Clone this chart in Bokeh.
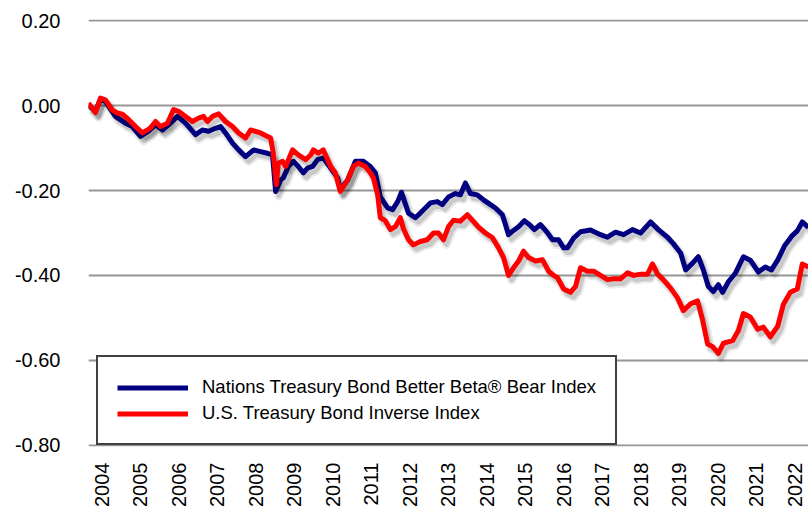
import math
from bokeh.plotting import figure
from bokeh.models import (ColumnDataSource, Range1d, FixedTicker, PrintfTickFormatter,
                          Legend, LegendItem)
from bokeh.transform import dodge
from bokeh.embed import file_html
from bokeh.resources import INLINE

# ---- data ----
year_ticks = list(range(2004, 2023))
value_ticks = [-0.8, -0.6, -0.4, -0.2, 0.0, 0.2]

bear_dates = [
    2003.65, 2003.83, 2003.96, 2004.09, 2004.35, 2004.61, 2004.79, 2005.00, 2005.21, 2005.39,
    2005.57, 2005.73, 2005.96, 2006.17, 2006.43, 2006.61, 2006.77, 2006.95, 2007.08, 2007.21,
    2007.39, 2007.55, 2007.73, 2007.94, 2008.12, 2008.30, 2008.43, 2008.51, 2008.64, 2008.71,
    2008.84, 2008.97, 2009.10, 2009.23, 2009.34, 2009.47, 2009.60, 2009.75, 2009.94, 2010.12,
    2010.19, 2010.38, 2010.58, 2010.79, 2010.97, 2011.10, 2011.23, 2011.42, 2011.55, 2011.68,
    2011.78, 2011.86, 2011.96, 2012.14, 2012.27, 2012.40, 2012.53, 2012.71, 2012.84, 2013.00,
    2013.18, 2013.31, 2013.44, 2013.57, 2013.75, 2013.91, 2014.09, 2014.22, 2014.40, 2014.48,
    2014.56, 2014.69, 2014.82, 2014.97, 2015.10, 2015.23, 2015.39, 2015.57, 2015.70, 2015.86,
    2015.99, 2016.09, 2016.25, 2016.43, 2016.69, 2016.95, 2017.13, 2017.34, 2017.55, 2017.78,
    2017.99, 2018.25, 2018.45, 2018.69, 2018.84, 2019.03, 2019.16, 2019.34, 2019.49, 2019.62,
    2019.75, 2019.88, 2020.01, 2020.12, 2020.27, 2020.45, 2020.66, 2020.84, 2021.05, 2021.23,
    2021.39, 2021.55, 2021.73, 2021.91, 2022.06, 2022.19, 2022.35,
]
bear_values = [
    0.000, -0.012, 0.015, 0.010, -0.025, -0.041, -0.049, -0.072, -0.060, -0.045,
    -0.057, -0.045, -0.025, -0.041, -0.068, -0.057, -0.060, -0.053, -0.049, -0.064,
    -0.088, -0.104, -0.120, -0.104, -0.108, -0.112, -0.116, -0.202, -0.175, -0.170,
    -0.143, -0.131, -0.143, -0.158, -0.147, -0.143, -0.127, -0.123, -0.147, -0.170,
    -0.198, -0.175, -0.131, -0.131, -0.143, -0.158, -0.215, -0.241, -0.245, -0.226,
    -0.204, -0.226, -0.253, -0.264, -0.253, -0.241, -0.229, -0.226, -0.233, -0.215,
    -0.207, -0.210, -0.182, -0.207, -0.210, -0.222, -0.233, -0.241, -0.257, -0.280,
    -0.304, -0.294, -0.285, -0.271, -0.280, -0.292, -0.280, -0.299, -0.316, -0.316,
    -0.335, -0.335, -0.312, -0.297, -0.293, -0.304, -0.310, -0.298, -0.304, -0.292,
    -0.300, -0.274, -0.292, -0.310, -0.325, -0.347, -0.387, -0.371, -0.356, -0.387,
    -0.426, -0.438, -0.422, -0.440, -0.415, -0.395, -0.356, -0.364, -0.392, -0.380,
    -0.387, -0.364, -0.330, -0.308, -0.295, -0.274, -0.287,
]

inverse_dates = [
    2003.65, 2003.83, 2003.96, 2004.09, 2004.27, 2004.40, 2004.53, 2004.66, 2004.74, 2004.87,
    2005.05, 2005.18, 2005.26, 2005.39, 2005.52, 2005.70, 2005.86, 2005.99, 2006.17, 2006.35,
    2006.51, 2006.64, 2006.74, 2006.87, 2007.03, 2007.21, 2007.39, 2007.55, 2007.73, 2007.86,
    2008.12, 2008.38, 2008.45, 2008.53, 2008.58, 2008.69, 2008.77, 2008.95, 2009.10, 2009.29,
    2009.42, 2009.49, 2009.62, 2009.75, 2009.94, 2010.06, 2010.19, 2010.38, 2010.53, 2010.66,
    2010.84, 2010.97, 2011.05, 2011.16, 2011.23, 2011.36, 2011.49, 2011.62, 2011.75, 2011.83,
    2011.96, 2012.09, 2012.27, 2012.45, 2012.61, 2012.74, 2012.87, 2013.00, 2013.13, 2013.31,
    2013.49, 2013.62, 2013.78, 2013.96, 2014.14, 2014.30, 2014.43, 2014.56, 2014.69, 2014.82,
    2014.95, 2015.08, 2015.26, 2015.44, 2015.60, 2015.73, 2015.83, 2015.99, 2016.17, 2016.30,
    2016.43, 2016.61, 2016.77, 2016.95, 2017.13, 2017.29, 2017.47, 2017.65, 2017.81, 2017.99,
    2018.17, 2018.30, 2018.43, 2018.58, 2018.77, 2018.95, 2019.10, 2019.29, 2019.47, 2019.60,
    2019.73, 2019.86, 2020.01, 2020.14, 2020.38, 2020.53, 2020.66, 2020.84, 2021.03, 2021.18,
    2021.36, 2021.55, 2021.70, 2021.88, 2022.06, 2022.19, 2022.35,
]
inverse_values = [
    0.006, -0.016, 0.018, 0.014, -0.010, -0.017, -0.020, -0.030, -0.037, -0.049,
    -0.064, -0.057, -0.052, -0.037, -0.049, -0.041, -0.009, -0.013, -0.025, -0.037,
    -0.029, -0.025, -0.037, -0.025, -0.019, -0.037, -0.049, -0.064, -0.076, -0.057,
    -0.064, -0.076, -0.112, -0.186, -0.135, -0.131, -0.143, -0.104, -0.116, -0.127,
    -0.116, -0.104, -0.112, -0.104, -0.143, -0.158, -0.202, -0.175, -0.143, -0.135,
    -0.143, -0.158, -0.170, -0.210, -0.264, -0.271, -0.292, -0.285, -0.264, -0.290,
    -0.316, -0.328, -0.320, -0.316, -0.300, -0.300, -0.316, -0.285, -0.270, -0.272,
    -0.257, -0.270, -0.286, -0.300, -0.311, -0.335, -0.358, -0.400, -0.382, -0.366,
    -0.343, -0.358, -0.366, -0.363, -0.390, -0.400, -0.405, -0.432, -0.440, -0.426,
    -0.382, -0.390, -0.390, -0.400, -0.410, -0.408, -0.408, -0.394, -0.400, -0.397,
    -0.397, -0.373, -0.397, -0.410, -0.430, -0.453, -0.483, -0.467, -0.460, -0.505,
    -0.562, -0.568, -0.584, -0.560, -0.554, -0.530, -0.490, -0.498, -0.527, -0.522,
    -0.545, -0.520, -0.468, -0.440, -0.432, -0.373, -0.380,
]

series_names = ["Nations Treasury Bond Better Beta\u00ae Bear Index",
                "U.S. Treasury Bond Inverse Index"]
series_colors = ["#000080", "#FF0000"]

FONT = "Liberation Sans"

# ---- figure ----
p = figure(width=808, height=511, output_backend="svg", toolbar_location=None,
           x_range=Range1d(2003.65, 2003.65 + 720 / 38.5),
           y_range=Range1d(-0.8035, 0.2035),
           min_border_left=88, min_border_right=0, min_border_top=19, min_border_bottom=65)
p.outline_line_color = None
p.background_fill_color = "white"
p.border_fill_color = "white"

p.xgrid.visible = False
p.ygrid.ticker = FixedTicker(ticks=value_ticks)
p.ygrid.grid_line_color = "#969696"
p.ygrid.grid_line_width = 2

p.yaxis.ticker = FixedTicker(ticks=value_ticks)
p.yaxis.formatter = PrintfTickFormatter(format="%.2f")
p.xaxis.ticker = FixedTicker(ticks=year_ticks)
p.xaxis.formatter = PrintfTickFormatter(format="%d")
p.xaxis.major_label_orientation = math.pi / 2

for ax in (p.xaxis[0], p.yaxis[0]):
    ax.axis_line_color = None
    ax.major_tick_line_color = None
    ax.minor_tick_line_color = None
    ax.major_tick_out = 0
    ax.major_tick_in = 0
    ax.major_label_text_font = FONT
    ax.major_label_text_font_size = "20px"
    ax.major_label_text_color = "black"
p.yaxis.major_label_standoff = 28
p.xaxis.major_label_standoff = 16

renderers = []
for xs, ys, color in ((bear_dates, bear_values, series_colors[0]),
                      (inverse_dates, inverse_values, series_colors[1])):
    src = ColumnDataSource(dict(x=xs, y=ys))
    # soft drop shadow
    p.line(x=dodge("x", 0.08), y=dodge("y", -0.011), source=src, line_color="black",
           line_alpha=0.08, line_width=9, line_join="round")
    p.line(x=dodge("x", 0.08), y=dodge("y", -0.011), source=src, line_color="black",
           line_alpha=0.14, line_width=5, line_join="round")
    r = p.line(x="x", y="y", source=src, line_color=color, line_width=5, line_join="round")
    renderers.append(r)

legend = Legend(items=[LegendItem(label=series_names[0], renderers=[renderers[0]]),
                       LegendItem(label=series_names[1], renderers=[renderers[1]])],
                location=(8, 1), margin=0, padding=19, spacing=4,
                glyph_width=71, glyph_height=21, label_height=21, label_standoff=14,
                label_text_font=FONT, label_text_font_size="18.5px", label_text_color="black",
                border_line_color="#404040", border_line_width=2, border_line_alpha=1.0,
                background_fill_color="white", background_fill_alpha=1.0)
p.add_layout(legend)

open("out.html", "w").write(file_html(p, INLINE))
